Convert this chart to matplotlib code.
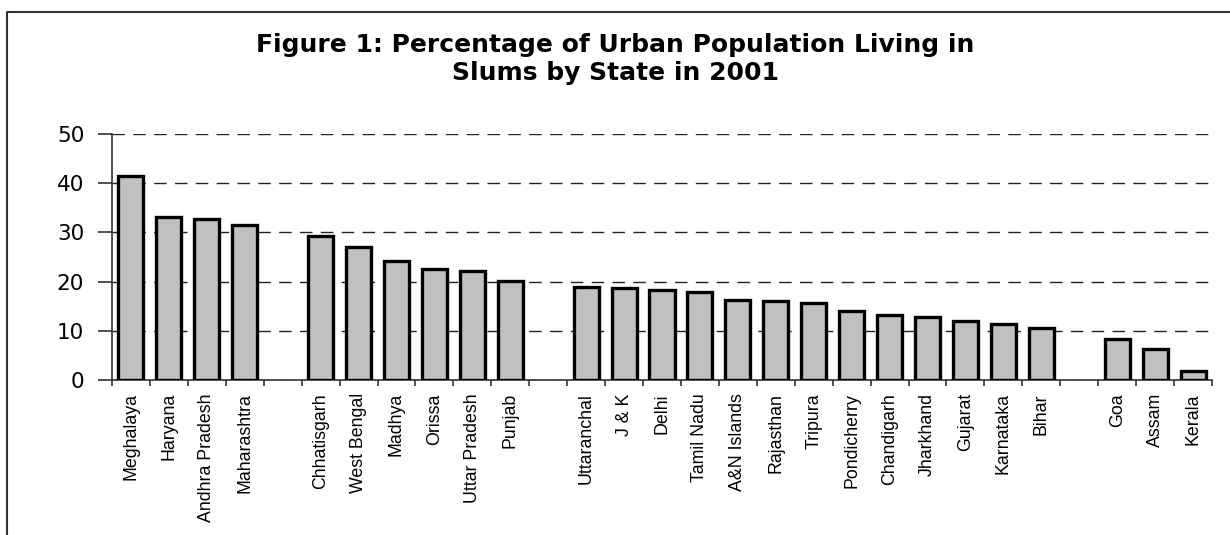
import numpy as np
import matplotlib.pyplot as plt
from matplotlib.lines import Line2D

# states in chart order, grouped (gaps between groups)
states = ["Meghalaya", "Haryana", "Andhra Pradesh", "Maharashtra",
          "Chhatisgarh", "West Bengal", "Madhya", "Orissa", "Uttar Pradesh", "Punjab",
          "Uttaranchal", "J & K", "Delhi", "Tamil Nadu", "A&N Islands", "Rajasthan",
          "Tripura", "Pondicherry", "Chandigarh", "Jharkhand", "Gujarat", "Karnataka", "Bihar",
          "Goa", "Assam", "Kerala"]
pct = [41.4, 33.1, 32.8, 31.6,
       29.2, 27.0, 24.2, 22.5, 22.1, 20.2,
       18.9, 18.6, 18.3, 17.8, 16.3, 16.1,
       15.6, 14.1, 13.3, 12.8, 11.9, 11.3, 10.5,
       8.3, 6.3, 1.9]
group_sizes = [4, 6, 13, 3]
title = "Figure 1: Percentage of Urban Population Living in\nSlums by State in 2001"

# bar slots, one empty slot between groups
pos = []
x = 0
for n in group_sizes:
    pos += list(range(x, x + n))
    x += n + 1
n_slots = x - 1

W, H = 1230, 535
fig = plt.figure(figsize=(W / 100, H / 100), dpi=100)

# outer frame (only top and left visible in the picture)
fig.add_artist(Line2D([7 / W, 7 / W, 1], [0, 1 - 12 / H, 1 - 12 / H],
                      transform=fig.transFigure, color='#333333', lw=1.5))

ax = fig.add_axes([112 / W, 1 - 380 / H, 1100 / W, 246 / H])
ax.bar(pos, pct, width=0.66, color='#c0c0c0', edgecolor='black', linewidth=2.4, zorder=3)

ax.set_xlim(-0.5, n_slots - 0.5)
ax.set_ylim(0, 50)
ax.set_yticks(range(0, 51, 10))
ax.yaxis.grid(True, linestyle=(0, (9, 6)), color='#222222', lw=1, zorder=0)

for s in ['top', 'right']:
    ax.spines[s].set_visible(False)
for s in ['left', 'bottom']:
    ax.spines[s].set_color('#333333')
    ax.spines[s].set_linewidth(1.2)

ax.set_xticks(np.arange(-0.5, n_slots, 1))
ax.set_xticklabels([])
ax.tick_params(axis='x', which='major', direction='out', length=4.5, width=1.2, color='#333333')
ax.set_xticks(pos, minor=True)
ax.set_xticklabels(states, minor=True, rotation=90, fontsize=12.8,
                   family='Liberation Sans', va='top')
ax.tick_params(axis='x', which='minor', length=0, pad=9.5)

ax.tick_params(axis='y', direction='out', length=10, width=1.2, color='#333333',
               pad=10, labelsize=15.5)
for lab in ax.get_yticklabels():
    lab.set_family('DejaVu Sans')

fig.text(0.5, 1 - 59 / H, title, ha='center', va='center', fontsize=18,
         weight='bold', linespacing=1.2)

fig.savefig('out.png', dpi=100)
